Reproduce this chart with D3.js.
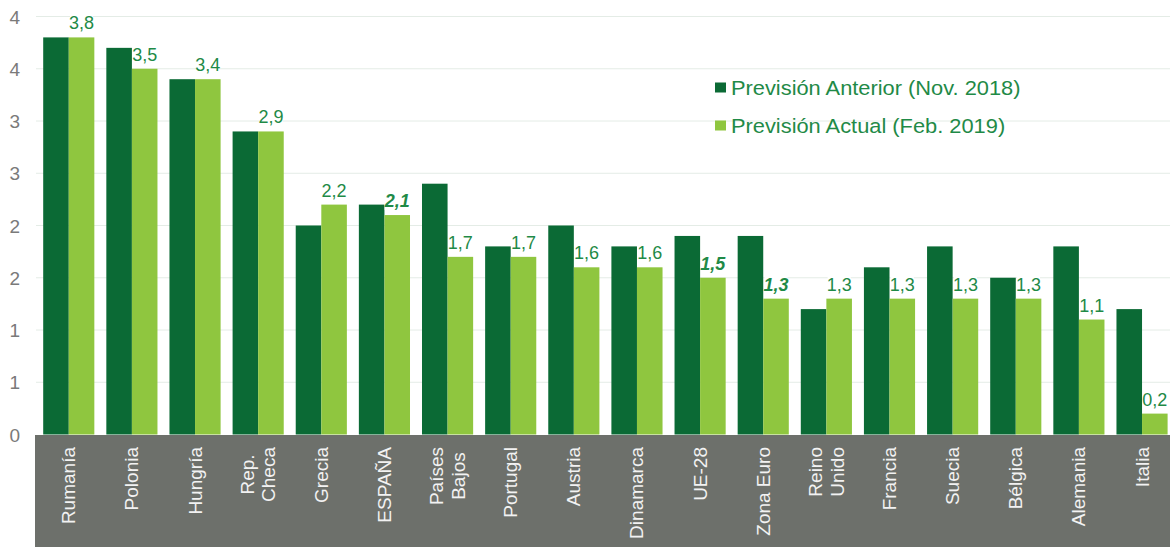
<!DOCTYPE html>
<html><head><meta charset="utf-8">
<script src="https://cdn.jsdelivr.net/npm/d3@7"></script>
<style>html,body{margin:0;padding:0;background:#fff;}svg{display:block;font-family:"Liberation Sans",Arial,sans-serif;}</style>
</head><body>
<svg id="c" width="1170" height="547"></svg>
<script>
const categories = ["Rumanía","Polonia","Hungría","Rep.|Checa","Grecia","ESPAÑA","Países|Bajos","Portugal","Austria","Dinamarca","UE-28","Zona Euro","Reino|Unido","Francia","Suecia","Bélgica","Alemania","Italia"];
const previsionAnterior = [3.8,3.7,3.4,2.9,2.0,2.2,2.4,1.8,2.0,1.8,1.9,1.9,1.2,1.6,1.8,1.5,1.8,1.2];
const previsionActual   = [3.8,3.5,3.4,2.9,2.2,2.1,1.7,1.7,1.6,1.6,1.5,1.3,1.3,1.3,1.3,1.3,1.1,0.2];
const highlighted = ["ESPAÑA","UE-28","Zona Euro"];
const seriesNames = ["Previsión Anterior (Nov. 2018)","Previsión Actual (Feb. 2019)"];
const yTicks = [0,0.5,1,1.5,2,2.5,3,3.5,4];

const colors = ["#0b6a35","#8fc63f"];
const svg = d3.select("#c");
const x = d3.scaleBand().domain(categories).range([37.2,1173.6]).paddingInner(0.19).paddingOuter(0.095);
const xs = d3.scaleBand().domain([0,1]).range([0,x.bandwidth()]);
const y = d3.scaleLinear().domain([0,4]).range([434.5,16.5]);

// gridlines
svg.append("g").selectAll("line").data(yTicks.filter(d=>d>0)).join("line")
  .attr("x1",36).attr("x2",1170).attr("y1",d=>y(d)).attr("y2",d=>y(d))
  .attr("stroke","#e4ece6").attr("stroke-width",1);

// y axis labels
const yAxis = d3.axisLeft(y).tickValues(yTicks).tickSize(0).tickPadding(0)
  .tickFormat(d=>String(Math.round(d+1e-9)));
const ya = svg.append("g").attr("transform","translate(20,0)").call(yAxis);
ya.select(".domain").remove();
ya.selectAll("text").attr("fill","#7a7a7a").attr("font-size",19).attr("font-family","Liberation Sans, Arial, sans-serif").attr("dy","0.35em");

// category band
svg.append("rect").attr("x",35).attr("y",435).attr("width",1135).attr("height",112).attr("fill","#6d706b");

// bars
const data = categories.map((c,i)=>({c, v:[previsionAnterior[i],previsionActual[i]]}));
const g = svg.append("g");
data.forEach(d=>{
  d.v.forEach((v,s)=>{
    g.append("rect").attr("x",x(d.c)+xs(s)).attr("width",xs.bandwidth())
      .attr("y",y(v)).attr("height",y(0)-y(v)).attr("fill",colors[s]);
  });
});

// value labels on actual series
const fmt = v => d3.format(".1f")(v).replace(".",",");
const lg = svg.append("g");
data.forEach(d=>{
  const v = d.v[1];
  const cx = x(d.c)+xs(1)+xs.bandwidth()/2;
  const hi = highlighted.includes(d.c);
  const t = lg.append("text").attr("x",cx).attr("y",y(v)-8).attr("text-anchor","middle")
    .attr("font-size",18).attr("fill","#1f8a47")
    .attr("font-weight",hi?"bold":"normal").attr("font-style",hi?"italic":"normal")
    .text(fmt(v));
  const bb = t.node().getBBox();
  lg.insert("rect",()=>t.node()).attr("x",bb.x+1).attr("y",bb.y+2).attr("width",bb.width-2).attr("height",bb.height-3).attr("fill","#fff");
});

// category labels (rotated, multi-line)
const cg = svg.append("g");
data.forEach(d=>{
  const lines = d.c.split("|");
  const cx = x(d.c)+x.bandwidth()/2;
  const fs = 19;
  const tmp = cg.append("text").attr("font-size",fs);
  const lens = lines.map(l=>{tmp.text(l);return tmp.node().getComputedTextLength();});
  tmp.remove();
  const maxL = d3.max(lens);
  const lh = 21.5;
  const n = lines.length;
  const top = 447;
  lines.forEach((l,i)=>{
    const lx = cx + (i-(n-1)/2)*lh + 6.5;
    cg.append("text").attr("font-size",fs).attr("fill","#f2f2f2").attr("text-anchor","middle")
      .attr("transform",`translate(${lx},${top+maxL/2}) rotate(-90)`).text(l);
  });
});

// legend
seriesNames.forEach((s,i)=>{
  const yy = 95 + i*38;
  svg.append("rect").attr("x",715).attr("y",yy-12.5).attr("width",11).attr("height",10).attr("fill",colors[i]);
  svg.append("text").attr("transform",`translate(731,${yy}) scale(1.12,1)`).attr("font-size",19.5).attr("fill","#1f8a47").text(s);
});
</script>
</body></html>
